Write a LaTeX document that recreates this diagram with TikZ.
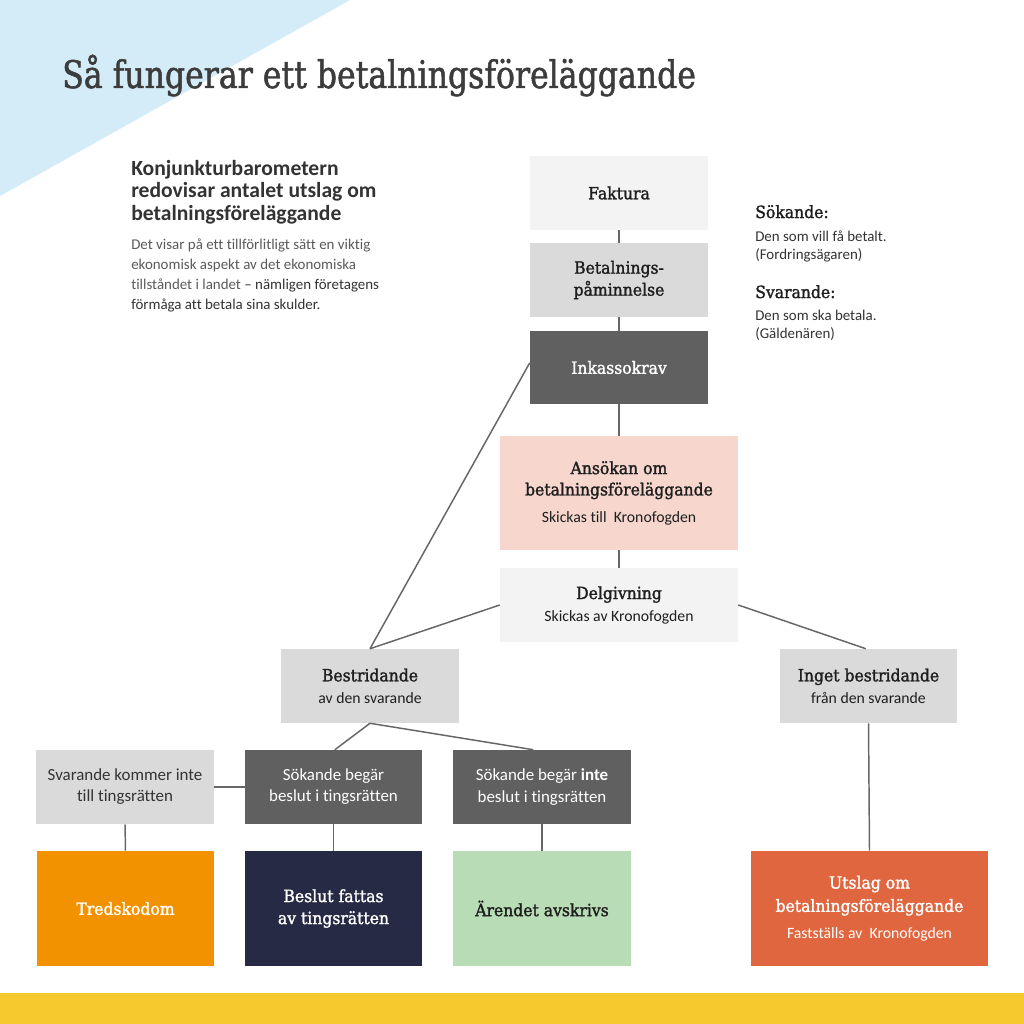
\documentclass[tikz,border=0pt]{standalone}
\usepackage{fontspec}
\setmainfont[Ligatures=NoCommon]{Carlito}
\newfontfamily\slab[FakeStretch=0.93,FakeBold=1.6]{DejaVu Serif}
\newfontfamily\slabt[FakeStretch=0.83,FakeBold=1.3]{DejaVu Serif}
\usetikzlibrary{calc}
\definecolor{skyc}{HTML}{D4EBF8}
\definecolor{yel}{HTML}{F6C92F}
\definecolor{boxa}{HTML}{F3F3F3}
\definecolor{boxb}{HTML}{DADADA}
\definecolor{boxd}{HTML}{606060}
\definecolor{pink}{HTML}{F6D6CD}
\definecolor{orng}{HTML}{F39200}
\definecolor{navy}{HTML}{262A44}
\definecolor{grn}{HTML}{B8DCB5}
\definecolor{redo}{HTML}{E06640}
\definecolor{linec}{HTML}{666666}
\definecolor{titlec}{HTML}{3C3C3C}
\definecolor{txtd}{HTML}{1E1E1E}
\definecolor{txtm}{HTML}{333333}
\definecolor{txtg}{HTML}{5A5A5A}
\newcommand\headf{\slab\fontsize{12.6}{16.5}\selectfont}
\newcommand\subf{\fontsize{11.8}{14}\selectfont}
\newcommand\grayf{\fontsize{12.7}{15.8}\selectfont}
\begin{document}
\begin{tikzpicture}[x=0.75pt,y=-0.75pt,
  box/.style={inner sep=0pt, align=center, text=txtd},
  conn/.style={draw=linec, line width=1.1pt}]
\useasboundingbox (0,0) rectangle (1024,1024);
\fill[white] (0,0) rectangle (1024,1024);
\fill[skyc] (0,0) -- (350,0) -- (0,196) -- cycle;
\fill[yel] (0,993) rectangle (1024,1024);

\node[anchor=base west, inner sep=0pt, text=titlec, font=\slabt\fontsize{28.5}{30}\selectfont] (title) at (62,88) {Så fungerar ett betalningsföreläggande};

\node[anchor=north west, inner sep=0pt, align=left, text=txtm, font=\bfseries\fontsize{16.2}{16.9}\selectfont] (head) at (131,160) {Konjunkturbarometern\\redovisar antalet utslag om\\betalningsföreläggande};
\node[anchor=north west, inner sep=0pt, align=left, text=txtg, font=\fontsize{11.2}{15}\selectfont] (body) at (131,239) {Det visar på ett tillförlitligt sätt en viktig\\ekonomisk aspekt av det ekonomiska\\tillståndet i landet {\color{txtm}– nämligen företagens}\\{\color{txtm}förmåga att betala sina skulder.}};

\node[anchor=base west, inner sep=0pt, text=txtd, font=\headf] (sokh) at (755,218) {Sökande:};
\node[anchor=north west, inner sep=0pt, align=left, text=txtm, font=\fontsize{11.2}{13.4}\selectfont] (sokt) at (755,231) {Den som vill få betalt.\\(Fordringsägaren)};
\node[anchor=base west, inner sep=0pt, text=txtd, font=\headf] (svah) at (755,298) {Svarande:};
\node[anchor=north west, inner sep=0pt, align=left, text=txtm, font=\fontsize{11.2}{13.4}\selectfont] (svat) at (755,310) {Den som ska betala.\\(Gäldenären)};

% boxes
\node[box, fill=boxa, minimum width=178*0.75pt, minimum height=74*0.75pt, font=\headf] (fak) at (619,193) {Faktura};
\node[box, fill=boxb, minimum width=178*0.75pt, minimum height=74*0.75pt, font=\headf] (bet) at (619,280) {Betalnings-\\påminnelse};
\node[box, fill=boxd, minimum width=178*0.75pt, minimum height=73*0.75pt, font=\headf, text=white] (ink) at (619,367.5) {Inkassokrav};
\node[box, fill=pink, minimum width=238*0.75pt, minimum height=114*0.75pt] (ans) at (619,493) {{\headf Ansökan om}\\[4pt]{\headf betalningsföreläggande}\\[8pt]{\subf Skickas till\ \ Kronofogden}};
\node[box, fill=boxa, minimum width=238*0.75pt, minimum height=74*0.75pt] (del) at (619,605) {{\headf Delgivning}\\[4.5pt]{\subf Skickas av Kronofogden}};
\node[box, fill=boxb, minimum width=178*0.75pt, minimum height=74*0.75pt] (bes) at (370,686) {{\headf Bestridande}\\[4.5pt]{\subf av den svarande}};
\node[box, fill=boxb, minimum width=177*0.75pt, minimum height=74*0.75pt] (ing) at (868.5,686) {{\headf Inget bestridande}\\[4.5pt]{\subf från den svarande}};
\node[box, fill=boxb, minimum width=178*0.75pt, minimum height=74*0.75pt, font=\grayf, text=txtm] (sva) at (125,787) {Svarande kommer inte\\till tingsrätten};
\node[box, fill=boxd, minimum width=177*0.75pt, minimum height=74*0.75pt, font=\grayf, text=white] (sok) at (333.5,787) {Sökande begär\\beslut i tingsrätten};
\node[box, fill=boxd, minimum width=178*0.75pt, minimum height=74*0.75pt, font=\grayf, text=white] (soki) at (542,787) {Sökande begär \textbf{inte}\\beslut i tingsrätten};
\node[box, fill=orng, minimum width=177*0.75pt, minimum height=115*0.75pt, font=\headf, text=white] (tre) at (125.5,908.5) {Tredskodom};
\node[box, fill=navy, minimum width=177*0.75pt, minimum height=115*0.75pt, font=\headf, text=white] (besl) at (333.5,908.5) {Beslut fattas\\av tingsrätten};
\node[box, fill=grn, minimum width=178*0.75pt, minimum height=115*0.75pt, font=\headf] (are) at (542,908.5) {Ärendet avskrivs};
\node[box, fill=redo, minimum width=237*0.75pt, minimum height=115*0.75pt, text=white] (uts) at (869.5,908.5) {{\headf Utslag om}\\[4pt]{\headf betalningsföreläggande}\\[8pt]{\subf Fastställs av\ \ Kronofogden}};

% connectors
\draw[conn] (fak.south) -- (bet.north);
\draw[conn] (bet.south) -- (ink.north);
\draw[conn] (ink.south) -- (ans.north);
\draw[conn] (ans.south) -- (del.north);
\draw[conn] ([yshift=3.5pt]ink.west) -- (bes.north);
\draw[conn] (del.west) -- (bes.north);
\draw[conn] (del.east) -- ([xshift=-2pt]ing.north);
\draw[conn] (bes.south) -- ([xshift=1pt]sok.north);
\draw[conn] (bes.south) -- ([xshift=-6.5pt]soki.north);
\draw[conn] (sva.east) -- (sok.west);
\draw[conn] (sva.south) -- (tre.north);
\draw[conn] (sok.south) -- (besl.north);
\draw[conn] (soki.south) -- (are.north);
\draw[conn] (ing.south) -- (uts.north);
\end{tikzpicture}
\end{document}
